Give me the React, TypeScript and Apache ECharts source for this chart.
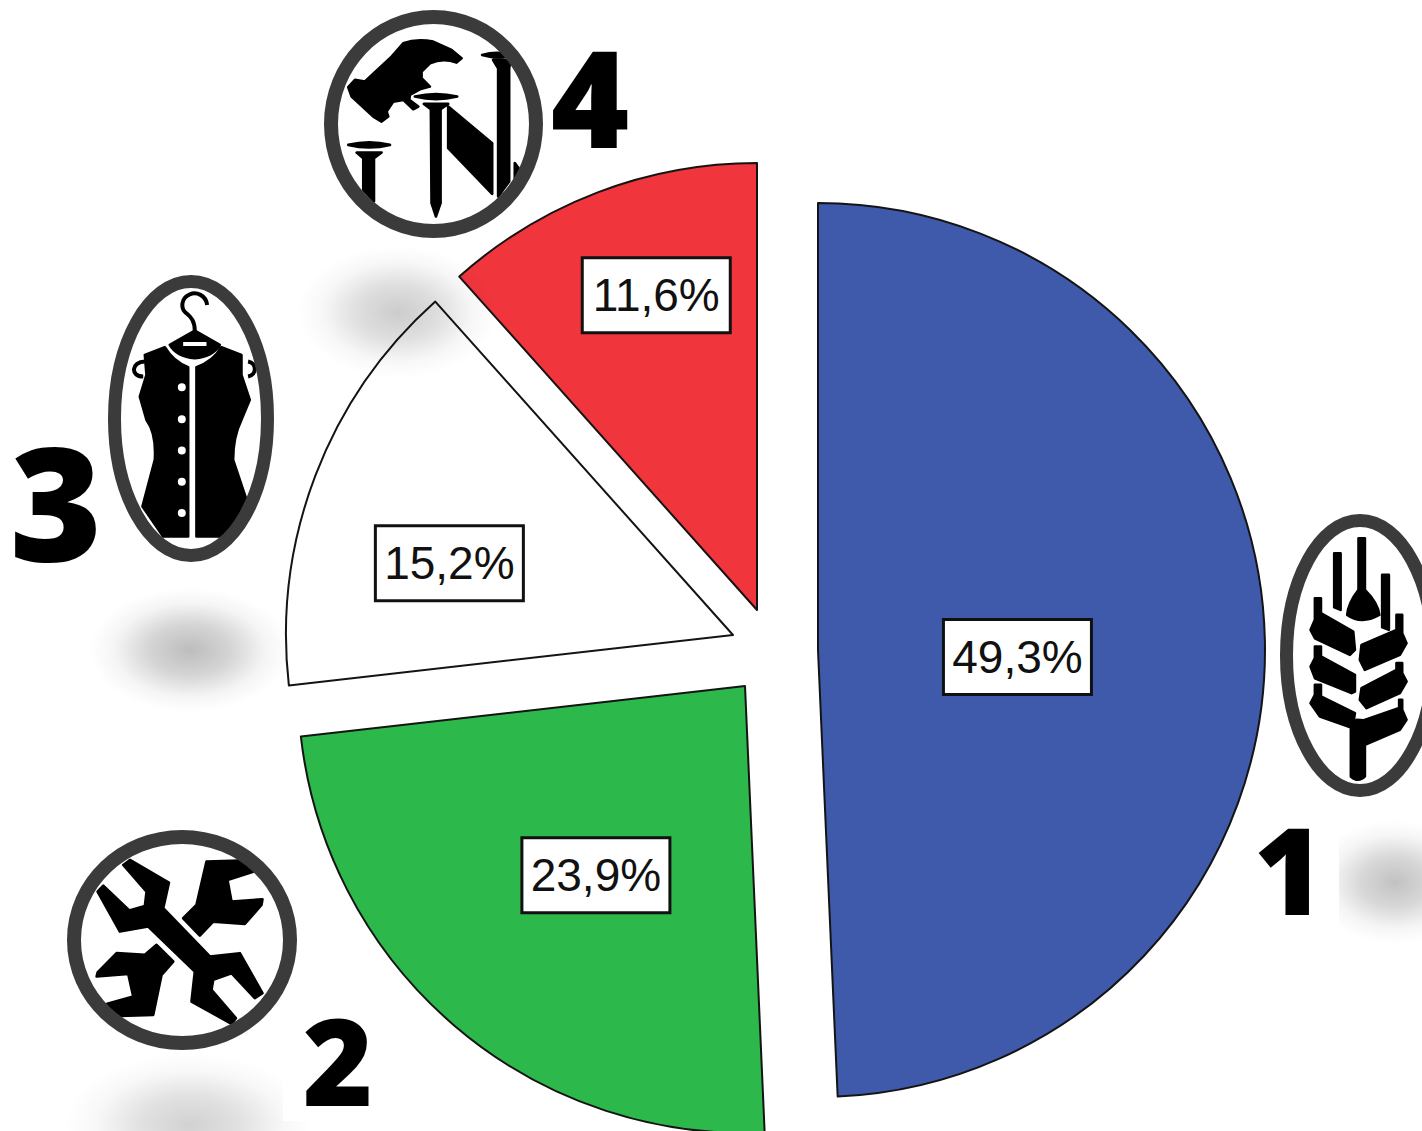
import React, { useEffect, useRef } from "react";
import * as echarts from "echarts";

// ---- data ----
const categories = ["1", "2", "3", "4"];
const shares = [49.3, 23.9, 15.2, 11.6];
const sliceColors = ["#3F5AAB", "#2DB84B", "#FFFFFF", "#F0353D"];
const digitLabels = ["1", "2", "3", "4"];

// ---- layout ----
const RADIUS = 447;
const sliceCenters = [[818, 650], [745, 686], [733, 635], [757, 610]];
const labelShift = [[-27, 12], [-2, 17], [-72, 9], [-20, -103]];

// ---- icons: path strings in 3x local units ----
const HAMMER =
  "M85,262 L105,240 L135,245 L215,170 L250,130 Q290,115 340,125 L395,150 L425,175 L410,188 Q370,172 330,190 L305,215 L305,235 L330,260 L300,268 L270,285 L268,300 L295,320 L280,328 L250,300 L220,305 L200,335 L205,350 L185,365 L160,350 L95,290 Z " +
  "M285,290 Q348,275 412,290 Q348,305 285,290 Z M312,312 L385,312 L362,328 L362,610 L348,650 L335,610 L333,328 Z " +
  "M487,165 Q520,155 555,160 L560,172 Q520,175 487,165 Z M520,180 L572,182 L568,205 L568,545 L535,590 L535,205 Z " +
  "M385,320 L517,430 L517,582 L385,445 Z M585,490 L600,510 L590,535 L585,535 Z " +
  "M85,435 Q148,420 210,435 Q148,450 85,435 Z M110,458 L185,458 L162,475 L162,605 L130,570 L130,475 Z";
const VEST =
  "M510,255 L585,212 L660,255 Q640,290 585,295 Q530,290 510,255 Z " +
  "M435,285 L495,262 Q520,305 565,322 L565,830 L490,830 L428,740 L465,600 Q470,520 440,480 L420,410 L440,345 Z " +
  "M665,262 L725,285 L725,345 L750,420 L725,480 Q700,530 700,600 L740,720 L690,830 L590,830 L590,322 Q640,305 665,262 Z";
const VEST_LINES =
  "M622,135 C618,105 590,95 570,103 C545,112 540,145 560,160 C575,172 585,185 585,215 " +
  "M435,305 C395,305 390,350 430,350 M745,305 C772,310 772,345 745,350";
const VEST_WHITE =
  "M550,246 L620,246 L620,258 L550,258 Z " +
  [382, 478, 572, 666, 760].map((y) => `M534,${y} A12,12 0 1 0 558,${y} A12,12 0 1 0 534,${y} Z`).join(" ");
const WRENCH =
  "M220,135 L240,120 L357,188 L340,265 L480,410 L570,400 L638,520 L615,535 L545,460 L490,480 L485,510 L558,595 L545,612 L425,545 L435,455 L295,320 L210,335 L143,215 L160,197 L238,272 L285,258 L290,215 Z " +
  "M470,125 L570,122 L610,155 L533,180 L545,245 L638,238 L635,255 L585,312 L490,305 L450,347 L400,295 L440,255 Z " +
  "M320,375 L370,425 L335,465 L310,585 L210,588 L172,552 L250,530 L235,462 L140,470 L143,458 L200,400 L285,405 Z";
const WHEAT =
  "M356,115 L375,115 L375,270 Q415,310 418,345 Q365,375 322,345 Q325,310 356,270 Z " +
  "M283,160 L302,160 L302,330 L283,322 Z M427,225 L447,225 L447,390 L427,382 Z " +
  "M225,295 L243,295 L243,340 L340,395 L345,450 L330,465 L225,415 L212,390 L225,360 Z " +
  "M225,440 L243,440 L243,470 L345,525 L345,575 L335,580 L225,535 L212,500 L225,475 Z " +
  "M225,555 L243,555 L243,590 L345,640 L338,685 L240,650 L212,610 L225,585 Z " +
  "M470,345 L487,345 L487,400 L500,430 L480,465 L375,510 L360,480 L365,435 L470,390 Z " +
  "M470,490 L487,490 L487,520 L500,545 L480,580 L380,625 L360,600 L365,565 L470,510 Z " +
  "M478,600 L487,600 L487,630 L500,660 L480,690 L375,735 L375,830 Q355,850 333,830 L333,680 L350,660 L370,662 L478,625 Z";

const shapes: Record<string, string> = {
  iconHammer: HAMMER, iconVest: VEST, iconVestLines: VEST_LINES, iconVestWhite: VEST_WHITE, iconWrench: WRENCH, iconWheat: WHEAT,
};
Object.keys(shapes).forEach((k) => echarts.graphic.registerShape(k, echarts.graphic.extendPath(shapes[k], {})));

const RING = "#3b3b3b";
const FAT = { fill: "#000", stroke: "#000", lineWidth: 8, lineJoin: "round" };
const ringBack = (cx: number, cy: number, rx: number, ry: number, w: number) => ({
  type: "ellipse", z: 10, shape: { cx, cy, rx: rx - w / 2, ry: ry - w / 2 }, style: { fill: "#fff" },
});
const ringFront = (cx: number, cy: number, rx: number, ry: number, w: number) => ({
  type: "ellipse", z: 12, shape: { cx, cy, rx: rx - w / 2, ry: ry - w / 2 }, style: { fill: "none", stroke: RING, lineWidth: w },
});
const icon = (type: string, x: number, y: number, style: any = FAT) => ({
  type, z: 11, x, y, scaleX: 1 / 3, scaleY: 1 / 3, style,
});
const blob = (cx: number, cy: number, rx: number, ry: number, a: number) => ({
  type: "ellipse", z: 5, silent: true, shape: { cx, cy, rx, ry },
  style: {
    fill: {
      type: "radial", x: 0.5, y: 0.5, r: 0.5,
      colorStops: [
        { offset: 0, color: `rgba(0,0,0,${a})` },
        { offset: 0.4, color: `rgba(0,0,0,${a * 0.65})` },
        { offset: 0.75, color: `rgba(0,0,0,${a * 0.16})` },
        { offset: 1, color: "rgba(0,0,0,0)" },
      ],
    },
  },
});
const digit = (text: string, x: number, y: number, size: number) => ({
  type: "text", z: 13, x, y,
  style: {
    text, fill: "#000", font: `800 ${size}px "Open Sans"`, align: "center", verticalAlign: "middle",
  },
});

export default function App() {
  const ref = useRef<HTMLDivElement>(null);
  useEffect(() => {
    const chart = echarts.init(ref.current!, undefined, { renderer: "svg" });
    const series = categories.map((_, s) => ({
      type: "pie",
      center: sliceCenters[s],
      radius: [0, RADIUS],
      startAngle: 90,
      clockwise: true,
      silent: true,
      avoidLabelOverlap: false,
      labelLine: { show: false },
      labelLayout: () => ({ dx: labelShift[s][0], dy: labelShift[s][1] }),
      data: categories.map((name, i) => ({
        name,
        value: shares[i],
        itemStyle:
          i === s
            ? { color: sliceColors[i], borderColor: "#141414", borderWidth: 2 }
            : { color: "rgba(0,0,0,0)", borderWidth: 0 },
        label:
          i === s
            ? {
                show: true, position: "inside",
                formatter: (p: any) => p.value.toFixed(1).replace(".", ",") + "%",
                fontFamily: "Liberation Sans", fontSize: 46, color: "#111",
                backgroundColor: "#fff", borderColor: "#111", borderWidth: 3,
                width: 145, height: 72, lineHeight: 72, align: "center", padding: 0,
              }
            : { show: false },
      })),
    }));
    const graphic = [
      blob(190, 650, 100, 62, 0.26),
      blob(398, 312, 100, 66, 0.2),
      blob(1395, 882, 85, 62, 0.24),
      blob(190, 1125, 125, 72, 0.18),
      { type: "rect", z: 6, shape: { x: 1262, y: 822, width: 77, height: 108 }, style: { fill: "#fff" } },
      { type: "rect", z: 6, shape: { x: 283, y: 1013, width: 95, height: 108 }, style: { fill: "#fff" } },
      ringBack(433.5, 124, 109.5, 114, 14), icon("iconHammer", 320, 0), ringFront(433.5, 124, 109.5, 114, 14),
      ringBack(191, 418.5, 83, 143.5, 13), icon("iconVest", 0, 260),
      icon("iconVestLines", 0, 260, { fill: "none", stroke: "#000", lineWidth: 12 }),
      icon("iconVestWhite", 0, 260, { fill: "#fff" }),
      ringFront(191, 418.5, 83, 143.5, 13),
      ringBack(182, 940, 115, 110, 14), icon("iconWrench", 50, 820), ringFront(182, 940, 115, 110, 14),
      ringBack(1360, 655.5, 80, 141.5, 13), icon("iconWheat", 1240, 500), ringFront(1360, 655.5, 80, 141.5, 13),
      digit(digitLabels[0], 1289, 868, 120),
      digit(digitLabels[1], 338, 1059, 120),
      digit(digitLabels[2], 56, 499, 158),
      digit(digitLabels[3], 590, 96, 134),
    ];
    chart.setOption({ animation: false, backgroundColor: "#fff", series, graphic });
    return () => chart.dispose();
  }, []);
  return <div ref={ref} style={{ position: "absolute", left: 0, top: 0, width: 1422, height: 1131 }} />;
}
